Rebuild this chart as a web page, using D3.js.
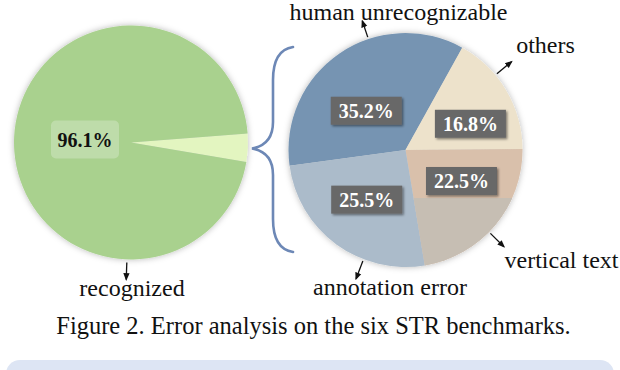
<!DOCTYPE html>
<html>
<head>
<meta charset="utf-8">
<script src="https://cdn.jsdelivr.net/npm/d3@7"></script>
<style>
  body { margin: 0; background: #fff; }
  svg { display: block; }
  svg text { font-family: "Liberation Serif", "Times New Roman", "DejaVu Serif", serif; }
</style>
</head>
<body>
<div class="chart"></div>
<script>
// left pie: overall recognition
const overallNames = ['error', 'recognized'];
const overallValues = [3.9, 96.1];
const overallColors = ['#e3f5c0', '#a9d18e'];

// right pie: error breakdown
const errorNames = ['human unrecognizable', 'others', 'vertical text', 'annotation error'];
const errorValues = [35.2, 16.8, 22.5, 25.5];
const errorColors = ['#7694b2', '#ede2cb', '#d9c0ab', '#abbbca'];

const caption = 'Figure 2. Error analysis on the six STR benchmarks.';

const width = 620;
const height = 370;
const deg = Math.PI / 180;
const serif = '"Liberation Serif", "Times New Roman", serif';

const svg = d3.select('.chart')
    .append('svg')
    .attr('width', width)
    .attr('height', height);

const defs = svg.append('defs');

// soft grey glow round the pies
const glow = defs.append('filter').attr('id', 'glow')
    .attr('x', '-20%').attr('y', '-20%').attr('width', '140%').attr('height', '140%');
glow.append('feDropShadow')
    .attr('dx', 0).attr('dy', 0)
    .attr('stdDeviation', 3)
    .attr('flood-color', '#000')
    .attr('flood-opacity', 0.28);

const boxShadow = defs.append('filter').attr('id', 'boxShadow')
    .attr('x', '-20%').attr('y', '-30%').attr('width', '140%').attr('height', '160%');
boxShadow.append('feDropShadow')
    .attr('dx', 1.5).attr('dy', 1.5)
    .attr('stdDeviation', 1)
    .attr('flood-color', '#000')
    .attr('flood-opacity', 0.45);

// checker hatch used in the lower part of "vertical text"
const hatch = defs.append('pattern').attr('id', 'hatch')
    .attr('width', 2).attr('height', 2)
    .attr('patternUnits', 'userSpaceOnUse');
hatch.append('rect').attr('width', 2).attr('height', 2).attr('fill', '#d8cbba');
hatch.append('rect').attr('width', 1).attr('height', 1).attr('fill', '#b3b0ac');
hatch.append('rect').attr('x', 1).attr('y', 1).attr('width', 1).attr('height', 1).attr('fill', '#b3b0ac');

const marker = defs.append('marker').attr('id', 'arrow')
    .attr('viewBox', '0 0 10 10')
    .attr('refX', 8).attr('refY', 5)
    .attr('markerWidth', 6).attr('markerHeight', 6)
    .attr('orient', 'auto');
marker.append('path').attr('d', 'M0,1 L10,5 L0,9 Z').attr('fill', '#111');

const polar = (cx, cy, a, r) => [cx + r * Math.sin(a), cy - r * Math.cos(a)];

// ---------- left pie ----------
const leftC = { x: 131, y: 142.5 };
const radius = 117;

const leftPie = d3.pie().sort(null)
    .startAngle(85.6 * deg)
    .endAngle(85.6 * deg + 2 * Math.PI);
const leftData = leftPie(overallValues);
const arc = d3.arc().innerRadius(0).outerRadius(radius);

const leftG = svg.append('g')
    .attr('transform', `translate(${leftC.x},${leftC.y})`);

leftG.append('g').attr('filter', 'url(#glow)')
    .selectAll('path')
    .data(leftData)
    .enter()
    .append('path')
    .attr('d', arc)
    .attr('fill', (d, i) => overallColors[i]);

// 96.1% label
const bigLabel = leftG.append('g').attr('transform', 'translate(-46,-3)');
bigLabel.append('rect')
    .attr('x', -34).attr('y', -19)
    .attr('width', 68).attr('height', 38)
    .attr('rx', 5)
    .attr('fill', '#fff').attr('fill-opacity', 0.25);
bigLabel.append('text')
    .attr('text-anchor', 'middle')
    .attr('y', 7)
    .attr('font-family', serif)
    .attr('font-size', 20)
    .attr('font-weight', 'bold')
    .attr('fill', '#111')
    .text(overallValues[1].toFixed(1) + '%');

// arrow + name under the pie
{
    const a = 182 * deg;
    const p0 = polar(0, 0, a, radius + 3);
    const p1 = polar(0, 0, a, radius + 20);
    leftG.append('line')
        .attr('x1', p0[0]).attr('y1', p0[1])
        .attr('x2', p1[0]).attr('y2', p1[1])
        .attr('stroke', '#111').attr('stroke-width', 1.3)
        .attr('marker-end', 'url(#arrow)');
    leftG.append('text')
        .attr('x', 1).attr('y', 153.5)
        .attr('text-anchor', 'middle')
        .attr('font-family', serif)
        .attr('font-size', 24)
        .attr('fill', '#111')
        .text(overallNames[1]);
}

// ---------- brace ----------
svg.append('path')
    .attr('d', 'M293,47 C280,49 273,60 273,80 L273,122 C273,138 266,146 252,148.5 ' +
               'C266,151 273,159 273,175 L273,219 C273,239 280,250 293,252')
    .attr('fill', 'none')
    .attr('stroke', '#6d88b6')
    .attr('stroke-width', 2.6)
    .attr('stroke-linecap', 'round');

// ---------- right pie ----------
const rightC = { x: 405.5, y: 150 };
const rightPie = d3.pie().sort(null)
    .startAngle(-97.7 * deg)
    .endAngle(-97.7 * deg + 2 * Math.PI);
const rightData = rightPie(errorValues);

const rightG = svg.append('g')
    .attr('transform', `translate(${rightC.x},${rightC.y})`);

const slices = rightG.append('g').attr('filter', 'url(#glow)');
slices.selectAll('path')
    .data(rightData)
    .enter()
    .append('path')
    .attr('d', arc)
    .attr('fill', (d, i) => errorColors[i]);

// hatched lower part of the vertical text slice
defs.append('clipPath').attr('id', 'hatchClip')
    .append('rect')
    .attr('x', -radius).attr('y', 48)
    .attr('width', 2 * radius).attr('height', radius);
slices.append('path')
    .attr('d', arc(rightData[2]))
    .attr('fill', 'url(#hatch)')
    .attr('clip-path', 'url(#hatchClip)');

// value boxes (angle from 12 o'clock, distance from centre)
const labelPlace = [
    { a: -45, r: 55.5 },
    { a: 68, r: 70 },
    { a: 119, r: 64 },
    { a: 218, r: 63 },
];

rightData.forEach((d, i) => {
    const p = polar(0, 0, labelPlace[i].a * deg, labelPlace[i].r);
    const g = rightG.append('g').attr('transform', `translate(${p[0]},${p[1]})`);
    const box = g.append('rect').attr('fill', '#676767').attr('filter', 'url(#boxShadow)');
    const t = g.append('text')
        .attr('text-anchor', 'middle')
        .attr('y', 7)
        .attr('font-family', serif)
        .attr('font-size', 20)
        .attr('font-weight', 'bold')
        .attr('fill', '#fff')
        .text(d.value.toFixed(1) + '%');
    const w = t.node().getComputedTextLength() + 16;
    box.attr('x', -w / 2).attr('y', -14).attr('width', w).attr('height', 28);
});

// outer names with arrows
const namePlace = [
    { a: -18.5, x: -7, y: -130 },
    { a: 50.2, x: 140, y: -97 },
    { a: 134.5, x: 156, y: 118 },
    { a: 201, x: -15.5, y: 145 },
];

rightData.forEach((d, i) => {
    const a = namePlace[i].a * deg;
    const p0 = polar(0, 0, a, radius + 2);
    const p1 = polar(0, 0, a, radius + (i === 0 ? 19 : 21));
    rightG.append('line')
        .attr('x1', p0[0]).attr('y1', p0[1])
        .attr('x2', p1[0]).attr('y2', p1[1])
        .attr('stroke', '#111').attr('stroke-width', 1.3)
        .attr('marker-end', 'url(#arrow)');
    rightG.append('text')
        .attr('x', namePlace[i].x).attr('y', namePlace[i].y)
        .attr('text-anchor', 'middle')
        .attr('font-family', serif)
        .attr('font-size', 24)
        .attr('fill', '#111')
        .text(errorNames[i]);
});

// ---------- caption + page strip ----------
svg.append('text')
    .attr('x', 313.5).attr('y', 334)
    .attr('text-anchor', 'middle')
    .attr('font-family', serif)
    .attr('font-size', 24.5)
    .attr('fill', '#111')
    .text(caption);

svg.append('rect')
    .attr('x', 6).attr('y', 360)
    .attr('width', 608).attr('height', 40)
    .attr('rx', 14)
    .attr('fill', '#dde5f4');
</script>
</body>
</html>
